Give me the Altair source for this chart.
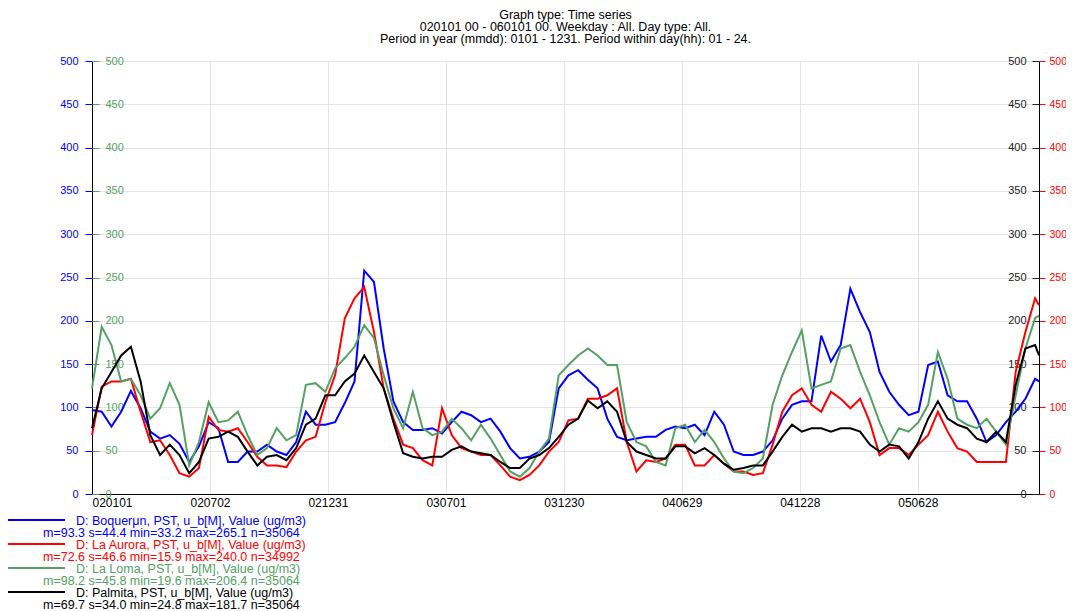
import altair as alt
import pandas as pd

# ---------------- data ----------------
days = list(range(0, 1456, 15)) + [1461]

boqueron = [97, 95, 78, 95, 119, 99, 72, 64, 68, 58, 37, 55, 83, 76, 37, 37, 49, 49, 57, 49, 45, 60, 95, 80, 80,
            83, 105, 130, 258, 245, 168, 107, 83, 74, 74, 76, 70, 83, 95, 91, 83, 87, 72, 53, 41, 43, 49, 60, 122, 137,
            143, 132, 122, 87, 66, 62, 64, 66, 66, 74, 78, 76, 80, 68, 95, 80, 49, 45, 45, 49, 62, 87, 103, 107,
            107, 183, 153, 172, 237, 210, 187, 141, 118, 103, 91, 95, 149, 153, 114, 107, 107, 87, 60, 68, 83, 95, 110, 133, 130]
la_aurora = [68, 124, 130, 130, 133, 95, 60, 62, 45, 24, 20, 30, 89, 74, 72, 76, 60, 43, 33, 33, 31, 49, 62, 66, 106,
             137, 203, 226, 239, 187, 122, 87, 57, 53, 39, 33, 99, 68, 53, 49, 45, 45, 33, 20, 16, 22, 33, 49, 60, 85,
             87, 110, 110, 114, 122, 60, 26, 39, 37, 41, 57, 57, 33, 33, 45, 35, 26, 26, 22, 24, 57, 95, 114, 122,
             103, 95, 118, 110, 99, 110, 83, 45, 53, 53, 45, 57, 68, 95, 72, 53, 49, 37, 37, 37, 37, 141, 187, 226, 218]
la_loma = [122, 193, 172, 130, 133, 114, 87, 99, 128, 103, 33, 60, 106, 83, 85, 95, 68, 45, 53, 76, 62, 68, 126, 128, 118,
           145, 157, 170, 195, 180, 137, 99, 76, 118, 76, 68, 72, 87, 76, 62, 80, 64, 45, 26, 20, 30, 49, 64, 137, 149,
           160, 168, 160, 149, 149, 83, 60, 55, 37, 33, 76, 80, 60, 74, 60, 41, 26, 24, 30, 41, 103, 137, 164, 189,
           122, 126, 130, 168, 172, 141, 114, 83, 57, 76, 72, 83, 103, 164, 133, 87, 80, 76, 87, 72, 57, 114, 168, 203, 206]
palmita = [76, 122, 141, 160, 170, 130, 68, 45, 57, 45, 24, 37, 64, 66, 72, 66, 49, 33, 43, 45, 39, 53, 80, 87, 114,
           114, 130, 139, 160, 141, 122, 83, 47, 43, 41, 43, 43, 51, 55, 49, 47, 45, 37, 30, 30, 41, 45, 53, 66, 80,
           87, 108, 99, 107, 95, 60, 49, 45, 41, 41, 55, 55, 47, 53, 45, 35, 28, 30, 33, 33, 49, 66, 80, 72,
           76, 76, 72, 76, 76, 72, 57, 49, 57, 55, 41, 60, 87, 107, 87, 80, 76, 64, 60, 72, 60, 126, 168, 172, 160]

tick_days = [0, 182, 364, 546, 728, 910, 1092, 1274]
tick_labels = ["020101", "020702", "021231", "030701", "031230", "040629", "041228", "050628"]
y_ticks = list(range(0, 501, 50))

title_lines = ["Graph type: Time series",
               "020101 00 - 060101 00. Weekday : All. Day type: All.",
               "Period in year (mmdd): 0101 - 1231. Period within day(hh): 01 - 24."]

legend_names = ["D: Boquer\u03bcn, PST, u_b[M], Value (ug/m3)",
                "D: La Aurora, PST, u_b[M], Value (ug/m3)",
                "D: La Loma, PST, u_b[M], Value (ug/m3)",
                "D: Palmita, PST, u_b[M], Value (ug/m3)"]
legend_stats = ["m=93.3 s=44.4 min=33.2 max=265.1 n=35064",
                "m=72.6 s=46.6 min=15.9 max=240.0 n=34992",
                "m=98.2 s=45.8 min=19.6 max=206.4 n=35064",
                "m=69.7 s=34.0 min=24.8 max=181.7 n=35064"]

BLUE, RED, GREEN, BLACK = "#0000ff", "#ff0000", "#55a064", "#000000"
FONT = "Liberation Sans"
W, H = 947, 433

df = pd.DataFrame({"day": days, "boq": boqueron, "aur": la_aurora,
                   "lom": la_loma, "pal": palmita})

label_expr = "[" + ",".join("'%s'" % t for t in tick_labels) + "][indexof([" + \
    ",".join(str(d) for d in tick_days) + "], datum.value)]"

x_enc = alt.X("day:Q", scale=alt.Scale(domain=[0, 1461], nice=False, zero=False),
              axis=alt.Axis(values=tick_days, labelExpr=label_expr, title=None,
                            grid=True, gridColor="#e4e4e4", ticks=False,
                            domainColor="#000000", labelColor="#000000",
                            labelFont=FONT, labelFontSize=12, labelPadding=3,
                            labelOverlap=False))

ysc = alt.Scale(domain=[0, 500], nice=False)


def yaxis(orient, offset, color, grid=False, domain=False, pad=6, tick=7, fs=11):
    kw = dict(orient=orient, offset=offset, values=y_ticks, title=None,
              tickColor=color, labelColor=color, tickSize=tick, labelPadding=pad,
              labelFont=FONT, labelFontSize=fs, grid=grid, domain=domain)
    if grid:
        kw["gridColor"] = "#e4e4e4"
    if domain:
        kw["domainColor"] = "#000000"
    return alt.Axis(**kw)


base = alt.Chart(df)
l_blue = base.mark_line(color=BLUE, strokeWidth=2).encode(
    x=x_enc, y=alt.Y("boq:Q", scale=ysc, axis=yaxis("left", 0, BLUE, grid=True, domain=True, pad=7)))
l_red = base.mark_line(color=RED, strokeWidth=2).encode(
    x=x_enc, y=alt.Y("aur:Q", scale=ysc, axis=yaxis("right", 0, RED, domain=True, pad=4, tick=6, fs=10.5)))
l_green = base.mark_line(color=GREEN, strokeWidth=2).encode(
    x=x_enc, y=alt.Y("lom:Q", scale=ysc, axis=yaxis("right", -W, GREEN)))
l_black = base.mark_line(color=BLACK, strokeWidth=2).encode(
    x=x_enc, y=alt.Y("pal:Q", scale=ysc, axis=yaxis("left", -W, "#222222")))

layers = [l_blue, l_red, l_green, l_black]

# legend below the plot
colors = [BLUE, RED, GREEN, BLACK]
for i, (nm, st, c) in enumerate(zip(legend_names, legend_stats, colors)):
    y1 = 460 + 24 * i
    ldf = pd.DataFrame({"t1": [nm], "t2": [st]})
    lc = alt.Chart(ldf)
    layers.append(lc.mark_rule(color=c, strokeWidth=2).encode(
        x=alt.value(-84), x2=alt.value(-27), y=alt.value(y1 - 1)))
    layers.append(lc.mark_text(align="left", baseline="middle", font=FONT, fontSize=12.5, color=c).encode(
        x=alt.value(-16), y=alt.value(y1), text="t1:N"))
    layers.append(lc.mark_text(align="left", baseline="middle", font=FONT, fontSize=12.5, color=c).encode(
        x=alt.value(-49), y=alt.value(y1 + 12), text="t2:N"))

chart = alt.layer(*layers).resolve_scale(y="independent").properties(
    width=W, height=H,
    title=alt.TitleParams(text=title_lines, font=FONT, fontSize=12.5, fontWeight="normal",
                          color="#000000", anchor="middle", lineHeight=12, offset=10),
    padding={"left": 84, "top": 53, "right": 1058 - 84 - W, "bottom": 118},
    autosize=alt.AutoSizeParams(type="none"),
).configure_view(stroke=None)

chart.save("out.html", embed_options={"renderer": "svg", "actions": False})
